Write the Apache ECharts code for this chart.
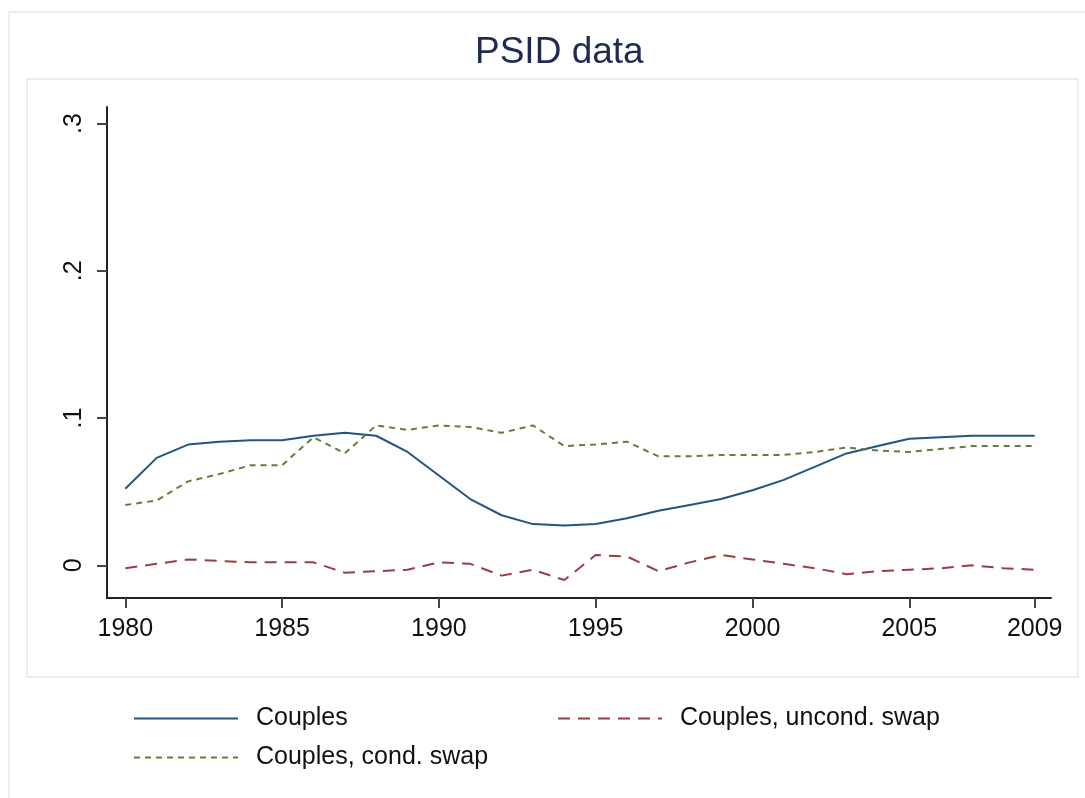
<!DOCTYPE html>
<html>
<head>
<meta charset="utf-8">
<script src="https://cdn.jsdelivr.net/npm/echarts@6/dist/echarts.min.js"></script>
<style>html,body{margin:0;padding:0;background:#fff;}#chart{width:1085px;height:798px;}</style>
</head>
<body>
<div id="chart"></div>
<script>
var years = [1980,1981,1982,1983,1984,1985,1986,1987,1988,1989,1990,1991,1992,1993,1994,1995,1996,1997,1998,1999,2000,2001,2002,2003,2004,2005,2006,2007,2008,2009];
var couples = [0.052,0.073,0.082,0.084,0.085,0.085,0.088,0.090,0.088,0.077,0.061,0.045,0.034,0.028,0.027,0.028,0.032,0.037,0.041,0.045,0.051,0.058,0.067,0.076,0.081,0.086,0.087,0.088,0.088,0.088];
var uncondSwap = [-0.002,0.001,0.004,0.003,0.002,0.002,0.002,-0.005,-0.004,-0.003,0.002,0.001,-0.007,-0.003,-0.010,0.007,0.006,-0.004,0.002,0.007,0.004,0.001,-0.002,-0.006,-0.004,-0.003,-0.002,0.000,-0.002,-0.003];
var condSwap = [0.041,0.044,0.057,0.062,0.068,0.068,0.087,0.076,0.095,0.092,0.095,0.094,0.090,0.095,0.081,0.082,0.084,0.074,0.074,0.075,0.075,0.075,0.077,0.080,0.078,0.077,0.079,0.081,0.081,0.081];
var xTicks = [1980,1985,1990,1995,2000,2005,2009];
var yTicks = [0,0.1,0.2,0.3];
var yTickLabels = {'0':'0','0.1':'.1','0.2':'.2','0.3':'.3'};
var names = ['Couples','Couples, uncond. swap','Couples, cond. swap'];

function pairs(vals){ return years.map(function(y,i){ return [y, vals[i]]; }); }

var font = '"Liberation Sans", Arial, sans-serif';
var cBlue = '#24547f', cRed = '#9a3e45', cGreen = '#5f8039';
var chart = echarts.init(document.getElementById('chart'));
function legendAt(name, left, top){
  return {
    data:[name], left:left, top:top, padding:0, orient:'horizontal',
    itemWidth:104, itemHeight:14, selectedMode:false,
    itemStyle:{opacity:0},
    textStyle:{fontFamily:font, fontSize:25, color:'#111', padding:[0,0,0,13]}
  };
}
chart.setOption({
  animation:false,
  backgroundColor:'#ffffff',
  title:{text:'PSID data', left:470, top:29, textStyle:{fontFamily:font, fontSize:37, fontWeight:'normal', color:'#1e2b4f'}},
  graphic:[
    {type:'rect', z:-10, shape:{x:9,y:12,width:1100,height:820}, style:{fill:'none', stroke:'#e8eff0', lineWidth:2}},
    {type:'rect', z:-10, shape:{x:27,y:79,width:1051,height:598}, style:{fill:'none', stroke:'#e8eff0', lineWidth:2}}
  ],
  legend:[
    legendAt(names[0],133,706),
    legendAt(names[1],557,706),
    legendAt(names[2],133,745)
  ],
  grid:{left:107, top:107, width:944, height:491, containLabel:false},
  xAxis:{
    type:'value', min:1979.416, max:2009.52,
    axisLine:{show:true, onZero:false, lineStyle:{color:'#222', width:2}},
    axisTick:{show:true, length:10, lineStyle:{color:'#444', width:2}, customValues:xTicks},
    axisLabel:{show:true, customValues:xTicks, fontFamily:font, fontSize:25, color:'#111', margin:19, formatter:function(v){return String(v);}},
    splitLine:{show:false}
  },
  yAxis:{
    type:'value', min:-0.0222, max:0.3113,
    axisLine:{show:true, onZero:false, lineStyle:{color:'#222', width:2}},
    axisTick:{show:true, length:10, lineStyle:{color:'#444', width:2}, customValues:yTicks},
    axisLabel:{show:true, customValues:yTicks, rotate:90, fontFamily:font, fontSize:25, color:'#111', margin:20,
      formatter:function(v){ var k = String(Math.round(v*10)/10); return yTickLabels[k] !== undefined ? yTickLabels[k] : k; }},
    splitLine:{show:false}
  },
  series:[
    {name:names[0], type:'line', data:pairs(couples), symbol:'none', lineStyle:{color:cBlue, width:2, type:'solid'}, itemStyle:{color:cBlue}},
    {name:names[1], type:'line', data:pairs(uncondSwap), symbol:'none', lineStyle:{color:cRed, width:2, type:[12,8]}, itemStyle:{color:cRed}},
    {name:names[2], type:'line', data:pairs(condSwap), symbol:'none', lineStyle:{color:cGreen, width:2, type:[6,5]}, itemStyle:{color:cGreen}}
  ]
});
</script>
</body>
</html>
